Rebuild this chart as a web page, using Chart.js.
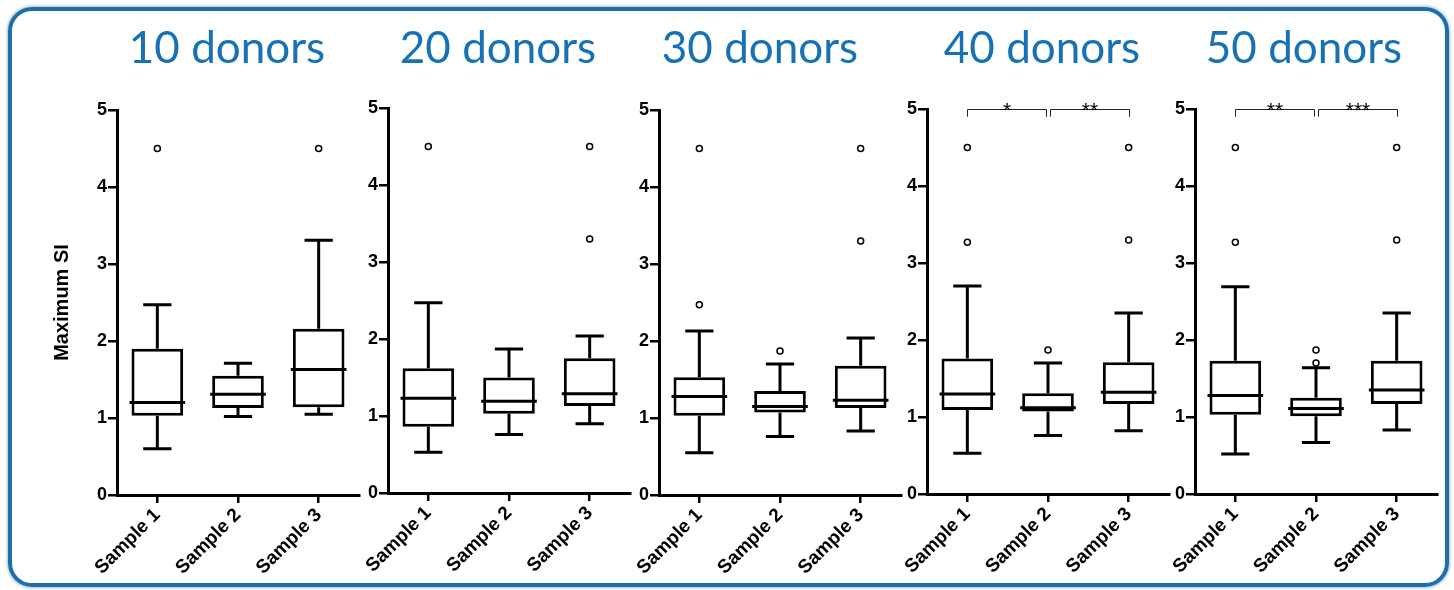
<!DOCTYPE html>
<html>
<head>
<meta charset="utf-8">
<script src="https://cdn.jsdelivr.net/npm/chart.js@4.4.1/dist/chart.umd.min.js"></script>
<style>
  html, body { margin: 0; padding: 0; background: #fff; }
  #page { position: relative; width: 1454px; height: 590px; overflow: hidden; background: #fff; }
  #frame {
    position: absolute; left: 8px; top: 7px; width: 1441px; height: 580px;
    box-sizing: border-box; border: 4px solid #1a6fb0; border-radius: 24px;
    box-shadow: 0 0 3px 1px rgba(0, 0, 0, 0.28);
  }
  .panel { position: absolute; top: 0; }
  .panel-title {
    position: absolute; top: 20px; transform: translateX(-50%);
    font-family: Lato, "Open Sans", sans-serif; font-size: 44px; line-height: 1.2;
    color: #1772b5; white-space: nowrap;
  }
</style>
</head>
<body>
<div id="page"><div id="frame"></div></div>
<script>
// ---- data ----
const categories = ['Sample 1', 'Sample 2', 'Sample 3'];
const panelTitles = ['10 donors', '20 donors', '30 donors', '40 donors', '50 donors'];
const yTicks = [0, 1, 2, 3, 4, 5];

// one row per panel, one value per sample
const whiskerLow  = [[0.60, 1.02, 1.05], [0.53, 0.76, 0.90], [0.55, 0.76, 0.83], [0.53, 0.76, 0.82], [0.52, 0.67, 0.83]];
const quartile1   = [[1.03, 1.13, 1.14], [0.86, 1.03, 1.13], [1.03, 1.07, 1.13], [1.09, 1.07, 1.17], [1.03, 1.01, 1.17]];
const medians     = [[1.20, 1.31, 1.63], [1.23, 1.19, 1.29], [1.28, 1.15, 1.23], [1.30, 1.12, 1.32], [1.28, 1.11, 1.35]];
const quartile3   = [[1.90, 1.55, 2.16], [1.62, 1.50, 1.75], [1.53, 1.35, 1.68], [1.76, 1.31, 1.71], [1.73, 1.25, 1.73]];
const whiskerHigh = [[2.47, 1.71, 3.31], [2.47, 1.87, 2.04], [2.13, 1.70, 2.04], [2.70, 1.70, 2.35], [2.69, 1.64, 2.35]];
const outliers = [
  [[4.5], [], [4.5]],
  [[4.5], [], [4.5, 3.3]],
  [[4.5, 2.47], [1.87], [4.5, 3.3]],
  [[4.5, 3.27], [1.87], [4.5, 3.3]],
  [[4.5, 3.27], [1.87, 1.70], [4.5, 3.3]]
];
// significance brackets: [from, to, label]
const significance = [
  [], [], [],
  [['Sample 1', 'Sample 2', '*'], ['Sample 2', 'Sample 3', '**']],
  [['Sample 1', 'Sample 2', '**'], ['Sample 2', 'Sample 3', '***']]
];

// ---- page geometry ----
const PAGE_H = 590;
const axisLeft = [117, 388, 659, 927, 1195];
const areaTop = [110, 108, 110, 109, 109];
const titleCenter = [227, 498, 760, 1042, 1304];
const AREA_W = 242, AREA_H = 385, X_AXIS_H = 90, PAD_R = 10;
const BOLD_FONT = "'Liberation Sans', Arial, sans-serif";

// whiskers (behind boxes) and medians (on top of boxes)
const boxWhiskerPlugin = {
  id: 'boxWhiskers',
  beforeDatasetsDraw(chart, args, opts) {
    const { ctx, scales: { x, y } } = chart;
    const bars = chart.getDatasetMeta(0).data;
    const capHalf = (x.getPixelForValue(1) - x.getPixelForValue(0)) * opts.capRatio / 2;
    ctx.save();
    ctx.strokeStyle = '#000';
    ctx.lineWidth = 3;
    ctx.lineCap = 'butt';
    bars.forEach((bar, i) => {
      const cx = bar.x;
      const segs = [
        [opts.q3[i], opts.high[i]],
        [opts.q1[i], opts.low[i]]
      ];
      segs.forEach(([from, to]) => {
        const yEnd = y.getPixelForValue(to);
        ctx.beginPath();
        ctx.moveTo(cx, y.getPixelForValue(from));
        ctx.lineTo(cx, yEnd);
        ctx.moveTo(cx - capHalf, yEnd);
        ctx.lineTo(cx + capHalf, yEnd);
        ctx.stroke();
      });
    });
    ctx.restore();
  },
  afterDatasetsDraw(chart, args, opts) {
    const { ctx, scales: { y } } = chart;
    const bars = chart.getDatasetMeta(0).data;
    ctx.save();
    ctx.strokeStyle = '#000';
    ctx.lineWidth = 3;
    bars.forEach((bar, i) => {
      const yMed = y.getPixelForValue(opts.median[i]);
      const half = bar.width / 2 + 2;
      ctx.beginPath();
      ctx.moveTo(bar.x - half, yMed);
      ctx.lineTo(bar.x + half, yMed);
      ctx.stroke();
    });
    ctx.restore();
  }
};

// pairwise comparison brackets drawn along the top of the plot
const bracketPlugin = {
  id: 'brackets',
  afterDraw(chart, args, opts) {
    const pairs = opts.pairs || [];
    if (!pairs.length) return;
    const { ctx, scales: { x, y } } = chart;
    const yTop = Math.round(y.getPixelForValue(opts.level)) + 0.5;
    const yLeg = y.getPixelForValue(opts.level - opts.legDrop);
    ctx.save();
    ctx.strokeStyle = '#222';
    ctx.lineWidth = 1;
    ctx.fillStyle = '#000';
    ctx.font = "21px " + BOLD_FONT;
    ctx.textAlign = 'center';
    ctx.textBaseline = 'alphabetic';
    pairs.forEach(([a, b, label]) => {
      const ia = categories.indexOf(a), ib = categories.indexOf(b);
      let x1 = x.getPixelForValue(ia), x2 = x.getPixelForValue(ib);
      if (ia === 1) x1 += 2;
      if (ib === 1) x2 -= 2;
      x1 = Math.round(x1) + 0.5; x2 = Math.round(x2) + 0.5;
      ctx.beginPath();
      ctx.moveTo(x1, yLeg);
      ctx.lineTo(x1, yTop);
      ctx.lineTo(x2, yTop);
      ctx.lineTo(x2, yLeg);
      ctx.stroke();
      ctx.fillText(label, (x1 + x2) / 2, yTop + 7);
    });
    ctx.restore();
  }
};

const page = document.getElementById('page');

panelTitles.forEach((title, p) => {
  const yAxisW = p === 0 ? 80 : 40;
  const width = yAxisW + AREA_W + PAD_R;
  const holder = document.createElement('div');
  holder.className = 'panel';
  holder.style.left = (axisLeft[p] - yAxisW) + 'px';
  const canvas = document.createElement('canvas');
  canvas.width = width;
  canvas.height = PAGE_H;
  canvas.style.width = width + 'px';
  canvas.style.height = PAGE_H + 'px';
  holder.appendChild(canvas);
  page.appendChild(holder);

  const outlierPoints = [];
  outliers[p].forEach((vals, i) => vals.forEach(v => outlierPoints.push({ x: categories[i], y: v })));

  new Chart(canvas, {
    type: 'bar',
    plugins: [boxWhiskerPlugin, bracketPlugin],
    data: {
      labels: categories,
      datasets: [
        {
          type: 'bar',
          data: categories.map((c, i) => [quartile1[p][i], quartile3[p][i]]),
          backgroundColor: '#fff',
          borderColor: '#000',
          borderWidth: 3,
          borderSkipped: false,
          barPercentage: 0.64,
          categoryPercentage: 1,
          order: 2
        },
        {
          type: 'scatter',
          data: outlierPoints,
          pointStyle: 'circle',
          pointRadius: 3,
          pointBorderWidth: 1.5,
          borderColor: '#000',
          backgroundColor: '#fff',
          order: 1
        }
      ]
    },
    options: {
      responsive: false,
      animation: false,
      events: [],
      devicePixelRatio: 1,
      layout: {
        padding: {
          top: areaTop[p],
          bottom: PAGE_H - areaTop[p] - AREA_H - X_AXIS_H,
          left: 0,
          right: PAD_R
        }
      },
      plugins: {
        legend: { display: false },
        tooltip: { enabled: false },
        title: { display: false },
        boxWhiskers: {
          low: whiskerLow[p], q1: quartile1[p], median: medians[p],
          q3: quartile3[p], high: whiskerHigh[p], capRatio: 0.35
        },
        brackets: { pairs: significance[p], level: 5.0, legDrop: 0.1 }
      },
      scales: {
        x: {
          type: 'category',
          offset: true,
          grid: {
            display: true, offset: false, drawOnChartArea: false, drawTicks: true,
            tickLength: 8, tickWidth: 2.5, lineWidth: 2.5, color: '#000'
          },
          border: { display: true, color: '#000', width: 3 },
          ticks: {
            minRotation: 45, maxRotation: 45, autoSkip: false, padding: 1,
            color: '#000', font: { family: BOLD_FONT, weight: 'bold', size: 19 }
          },
          afterFit(scale) { scale.height = X_AXIS_H; }
        },
        y: {
          type: 'linear',
          min: 0,
          max: 5,
          afterBuildTicks(scale) { scale.ticks = yTicks.map(v => ({ value: v })); },
          grid: {
            display: true, drawOnChartArea: false, drawTicks: true,
            tickLength: 9, tickWidth: 2.5, lineWidth: 2.5, color: '#000'
          },
          border: { display: true, color: '#000', width: 3 },
          ticks: {
            padding: 1, color: '#000',
            font: { family: BOLD_FONT, weight: 'bold', size: 18 }
          },
          title: {
            display: p === 0,
            text: 'Maximum SI',
            color: '#000',
            padding: { top: 13, bottom: 0 },
            font: { family: BOLD_FONT, weight: 'bold', size: 20 }
          },
          afterFit(scale) { scale.width = yAxisW; }
        }
      }
    }
  });

  const t = document.createElement('div');
  t.className = 'panel-title';
  t.style.left = titleCenter[p] + 'px';
  t.textContent = title;
  page.appendChild(t);
});
</script>
</body>
</html>
